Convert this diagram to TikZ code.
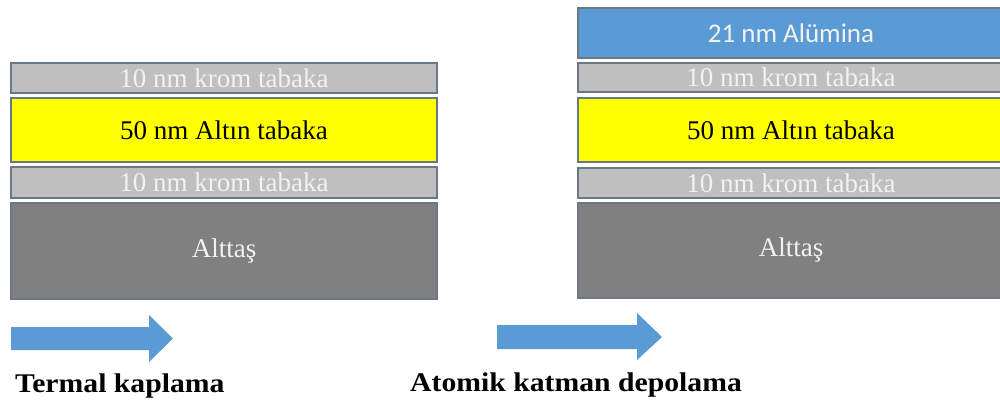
\documentclass[tikz,border=0pt]{standalone}
\usepackage{fontspec}
\setmainfont{Liberation Serif}
\newfontfamily\calib{Carlito}
\usetikzlibrary{positioning}
\definecolor{chromec}{HTML}{BFBFBF}
\definecolor{goldc}{HTML}{FFFF00}
\definecolor{subc}{HTML}{808080}
\definecolor{aluc}{HTML}{5B9BD5}
\definecolor{edgec}{HTML}{6A7886}
\definecolor{lighttext}{HTML}{F2F2F2}
\tikzset{
  layer/.style={draw=edgec, line width=1.2pt, rectangle, inner sep=0pt, outer sep=0pt,
    font=\fontsize{27}{27}\selectfont},
  chromelayer/.style={layer, fill=chromec, text=lighttext},
  goldlayer/.style={layer, fill=goldc, text=black},
  sublayer/.style={layer, fill=subc, text=lighttext},
  alulayer/.style={layer, fill=aluc, text=lighttext, font=\calib\fontsize{27}{27}\selectfont},
  blockarrow/.style={fill=aluc, draw=none},
  caption/.style={anchor=base west, inner sep=0pt, font=\bfseries\fontsize{27}{27}\selectfont, text=black}
}
\begin{document}
\begin{tikzpicture}[x=1pt,y=-1pt]
\useasboundingbox (0,0) rectangle (1000,403);
\fill[white] (0,0) rectangle (1000,403);
% left stack
\node[chromelayer, minimum width=426pt, minimum height=30pt] (lc1) at (224,78) {10 nm krom tabaka};
\node[goldlayer, minimum width=426pt, minimum height=64pt] (lg) at (224,130) {50 nm Altın tabaka};
\node[chromelayer, minimum width=426pt, minimum height=31pt] (lc2) at (224,182.5) {10 nm krom tabaka};
\node[sublayer, minimum width=426pt, minimum height=96pt] (ls) at (224,251) {Alttaş};
% right stack
\node[alulayer, minimum width=426pt, minimum height=50pt] (ra) at (791,33) {21 nm Alümina};
\node[chromelayer, minimum width=426pt, minimum height=29pt] (rc1) at (791,77.5) {10 nm krom tabaka};
\node[goldlayer, minimum width=426pt, minimum height=64pt] (rg) at (791,130) {50 nm Altın tabaka};
\node[chromelayer, minimum width=426pt, minimum height=30pt] (rc2) at (791,183) {10 nm krom tabaka};
\node[sublayer, minimum width=426pt, minimum height=95pt] (rs) at (791,250.5) {Alttaş};
% arrows
\fill[blockarrow] (11,327) -- (149,327) -- (149,315) -- (173,338.5) -- (149,362) -- (149,350) -- (11,350) -- cycle;
\fill[blockarrow] (497,325) -- (637,325) -- (637,313) -- (662,337) -- (637,360) -- (637,349) -- (497,349) -- cycle;
% captions
\node[caption] (c1) at (15,392) {\scalebox{1.1}[1]{Termal kaplama}};
\node[caption] (c2) at (410,391) {\scalebox{1.1}[1]{Atomik katman depolama}};
\end{tikzpicture}
\end{document}
